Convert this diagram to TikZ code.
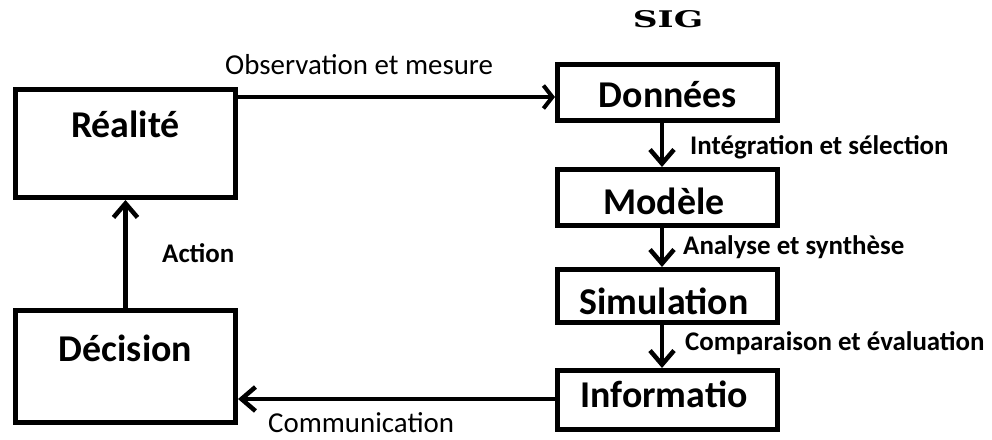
\documentclass[tikz,border=0pt]{standalone}
\usepackage{fontspec}
\setmainfont{Carlito}
\newfontfamily\titlefont{DejaVu Serif}
\usetikzlibrary{arrows.meta}
\begin{document}
\begin{tikzpicture}[x=1bp,y=-1bp,
  box/.style={draw,line width=5bp,minimum width=220bp,inner sep=0pt},
  boxtext/.style={font=\fontsize{38}{38}\selectfont\bfseries,inner sep=0pt,anchor=base},
  flow/.style={line width=4.5bp,-{Straight Barb[length=14bp,width=24bp,line width=4.5bp]}},
  flatflow/.style={line width=4bp,-{Straight Barb[length=9bp,width=23bp,line width=4bp]}},
  steplabel/.style={font=\fontsize{27}{27}\selectfont\bfseries,anchor=base west,inner sep=0pt},
  plainlabel/.style={font=\fontsize{29}{29}\selectfont,anchor=base west,inner sep=0pt}]
\useasboundingbox (0,0) rectangle (992,440);
% left column
\node[box,minimum height=108bp] (rea) at (125.5,143.5) {};
\node[box,minimum height=112bp] (dec) at (125.5,366.5) {};
\node[boxtext] (reatxt) at (125.5,138) {Réalité};
\node[boxtext] (dectxt) at (125.5,362) {Décision};
% right column (SIG)
\node[font=\titlefont\fontsize{23}{23}\selectfont\bfseries,anchor=base,inner sep=0pt] (sig) at (668,28) {\scalebox{1.5}[1]{SIG}};
\node[box,minimum height=56bp] (don) at (667.5,92.5) {};
\node[box,minimum height=56bp] (mod) at (667.5,197.5) {};
\node[box,minimum height=53bp] (sim) at (667.5,296) {};
\node[box,minimum height=59bp] (inf) at (667.5,400) {};
\node[boxtext] (dontxt) at (668,108) {Données};
\node[boxtext] (modtxt) at (664,215) {Modèle};
\node[boxtext] (simtxt) at (664,315) {Simulation};
\node[boxtext] (inftxt) at (664,407) {Informatio};
% connectors
\draw[flatflow] (rea.east |- 0,97) -- (don.west |- 0,97);
\draw[flow] (662,0 |- don.south) -- (662,0 |- mod.north);
\draw[flow] (662,0 |- mod.south) -- (662,0 |- sim.north);
\draw[flow] (662,0 |- sim.south) -- (662,0 |- inf.north);
\draw[flow] (inf.west |- 0,399) -- (dec.east |- 0,399);
\draw[flow] (dec.north) -- (rea.south);
% labels
\node[plainlabel] (obs) at (225,75) {Observation et mesure};
\node[steplabel] (integ) at (690,155) {Intégration et sélection};
\node[steplabel] (anal) at (683,255) {Analyse et synthèse};
\node[steplabel] (comp) at (685,351) {Comparaison et évaluation};
\node[steplabel] (act) at (162,263) {Action};
\node[plainlabel] (comm) at (268,432) {Communication};
\end{tikzpicture}
\end{document}
